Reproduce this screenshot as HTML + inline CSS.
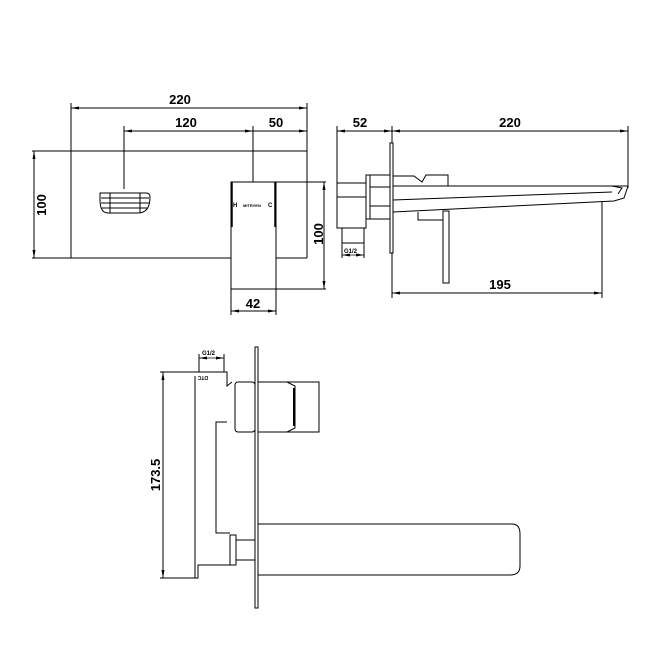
<!DOCTYPE html>
<html><head><meta charset="utf-8"><style>
html,body{margin:0;padding:0;background:#fff;}
svg{display:block;}
text{font-family:"Liberation Sans",Arial,sans-serif;font-weight:bold;fill:#000;}
</style></head><body>
<svg width="650" height="650" viewBox="0 0 650 650" xmlns="http://www.w3.org/2000/svg">
<defs>
<marker id="a" markerWidth="8" markerHeight="6" refX="8" refY="3" orient="auto-start-reverse" markerUnits="userSpaceOnUse"><path d="M0,1.5 L8,3 L0,4.5" fill="#000"/></marker>
</defs>
<g fill="none" stroke="#000" stroke-width="1">
<!-- VIEW 1 -->
<line x1="71" y1="108" x2="307" y2="108" marker-start="url(#a)" marker-end="url(#a)"/>
<line x1="71" y1="103" x2="71" y2="258"/>
<line x1="307" y1="103" x2="307" y2="258"/>
<line x1="124" y1="131" x2="253" y2="131" marker-start="url(#a)" marker-end="url(#a)"/>
<line x1="253" y1="131" x2="307" y2="131" marker-end="url(#a)"/>
<line x1="124" y1="126" x2="124" y2="189"/>
<line x1="253" y1="126" x2="253" y2="182"/>
<line x1="32" y1="151" x2="307" y2="151"/>
<line x1="32" y1="258" x2="231" y2="258"/>
<line x1="276" y1="258" x2="307" y2="258"/>
<line x1="34" y1="151" x2="34" y2="258" marker-start="url(#a)" marker-end="url(#a)"/>
<path d="M100,193 L146,193 Q150,193 150,197 Q150,213 138,213 L108,213 Q100,213 100,200 Z"/>
<line x1="101" y1="198" x2="149" y2="198"/><line x1="101" y1="203" x2="149" y2="203"/><line x1="102" y1="208" x2="147" y2="208"/>
<line x1="110" y1="193" x2="110" y2="213"/><line x1="140" y1="193" x2="140" y2="213"/>
<rect x="231" y="182" width="45" height="107"/>
<line x1="276" y1="182" x2="326" y2="182"/>
<line x1="276" y1="289" x2="326" y2="289"/>
<line x1="232" y1="182" x2="232" y2="227" stroke-width="1.5"/>
<line x1="275" y1="182" x2="275" y2="227" stroke-width="1.5"/>
<line x1="324" y1="182" x2="324" y2="289" marker-start="url(#a)" marker-end="url(#a)"/>
<line x1="231" y1="289" x2="231" y2="315"/><line x1="276" y1="289" x2="276" y2="315"/>
<line x1="231" y1="311" x2="276" y2="311" marker-start="url(#a)" marker-end="url(#a)"/>
<!-- VIEW 2 -->
<line x1="337" y1="131" x2="392" y2="131" marker-start="url(#a)" marker-end="url(#a)"/>
<line x1="392" y1="131" x2="628" y2="131" marker-start="url(#a)" marker-end="url(#a)"/>
<line x1="337" y1="126" x2="337" y2="183"/>
<line x1="392" y1="126" x2="392" y2="143"/>
<line x1="628" y1="126" x2="628" y2="188"/>
<rect x="390" y="143" width="3" height="110"/>
<rect x="337" y="183" width="29" height="45"/>
<line x1="337" y1="197" x2="366" y2="197"/>
<rect x="342" y="228" width="22" height="15"/>
<line x1="342" y1="243" x2="342" y2="258"/><line x1="364" y1="243" x2="364" y2="258"/>
<line x1="342" y1="255" x2="364" y2="255" marker-start="url(#a)" marker-end="url(#a)" stroke-width="0.8"/>
<rect x="366" y="175" width="4" height="44"/>
<rect x="370" y="175" width="20" height="44"/>
<line x1="370" y1="187" x2="390" y2="187"/><line x1="370" y1="206" x2="390" y2="206"/>
<path d="M393,176 L414,176 L422,182 L426,175 L448,175 L448,186"/>
<line x1="393" y1="186" x2="628" y2="186"/>
<path d="M628,186 L624,198 L614,201 L393,212"/>
<path d="M612,186 L622,188 L618,194"/>
<line x1="393" y1="200" x2="612" y2="192"/>
<path d="M418,212 L418,220 L443,220"/>
<path d="M443,211 L449,211 L449,283 L443,283 Z"/>
<line x1="392" y1="253" x2="392" y2="298"/>
<line x1="602" y1="202" x2="602" y2="298"/>
<line x1="392" y1="293" x2="602" y2="293" marker-start="url(#a)" marker-end="url(#a)"/>
<!-- VIEW 3 -->
<rect x="255" y="347" width="3" height="261"/>
<line x1="163" y1="372" x2="163" y2="578" marker-start="url(#a)" marker-end="url(#a)"/>
<line x1="160" y1="372" x2="195" y2="372"/><line x1="160" y1="578" x2="195" y2="578"/>
<path d="M195,372 L227,372 L227,386 L232,382"/>
<path d="M195,376 L195,578 L198,578 L198,565 L230,565"/>
<path d="M227,422 L216,422 L216,533 L230,533"/>
<line x1="199" y1="358" x2="224" y2="358" marker-start="url(#a)" marker-end="url(#a)" stroke-width="0.8"/>
<line x1="199" y1="354" x2="199" y2="372"/><line x1="224" y1="354" x2="224" y2="372"/>
<rect x="235" y="382" width="20" height="50" rx="3"/>
<path d="M258,382 L319,382 L319,432 L258,432"/>
<path d="M287,382 L295,386 L295,428 L287,432"/>
<line x1="294" y1="388" x2="294" y2="426" stroke-width="2"/>
<rect x="230" y="535" width="6" height="30"/>
<rect x="236" y="540" width="19" height="20"/>
<path d="M258,524 L512,524 Q520,524 520,534 L520,566 Q520,575 510,575 L258,575"/>
</g>
<g font-size="13">
<text x="180" y="104" text-anchor="middle">220</text>
<text x="186" y="127" text-anchor="middle">120</text>
<text x="276" y="127" text-anchor="middle">50</text>
<text x="253" y="308" text-anchor="middle">42</text>
<text x="360" y="127" text-anchor="middle">52</text>
<text x="510" y="127" text-anchor="middle">220</text>
<text x="500" y="289" text-anchor="middle">195</text>
<text transform="translate(46,205) rotate(-90)" text-anchor="middle">100</text>
<text transform="translate(323,234) rotate(-90)" text-anchor="middle">100</text>
<text transform="translate(160,475) rotate(-90)" text-anchor="middle">173.5</text>
</g>
<g font-size="6">
<text x="233" y="207">H</text>
<text x="243" y="207" font-size="4">MITRYEN</text>
<text x="268" y="207">C</text>
<text x="344" y="253">G1/2</text>
<text x="202" y="355">G1/2</text>
<text transform="translate(208,376) rotate(180)" font-size="5">DTC</text>
</g>
</svg>
</body></html>
